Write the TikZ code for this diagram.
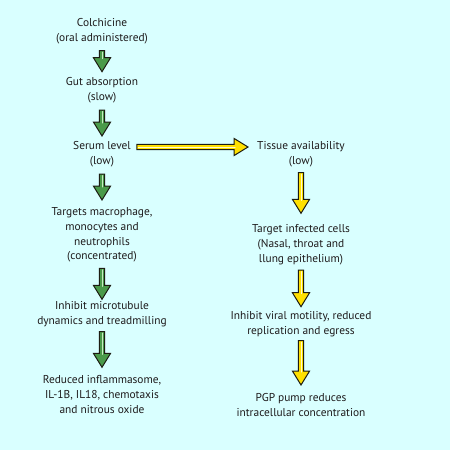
\documentclass[tikz,border=0pt]{standalone}
\usepackage{fontspec}
\setmainfont{PT Sans}
\usetikzlibrary{calc}

\definecolor{bgcyan}{HTML}{D9FFFF}
\definecolor{arrgreen}{HTML}{4A9A4A}
\definecolor{arrgreenhi}{HTML}{C6EBC0}
\definecolor{arryellow}{HTML}{FFE000}
\definecolor{arryellowhi}{HTML}{FFF8D0}
\definecolor{arredge}{HTML}{1C1C12}
\definecolor{txtgray}{HTML}{1E1B1C}

% block arrow: fill, highlight, from, to
\newcommand{\blockarrow}[4]{%
  \path let \p1=(#3), \p2=(#4) in \pgfextra{%
      \pgfmathsetmacro\arrang{atan2(\y2-\y1,\x2-\x1)}%
      \pgfmathsetmacro\arrlen{veclen(\x2-\x1,\y2-\y1)}%
      \xdef\arrang{\arrang}\xdef\arrlen{\arrlen}}
    (\p1) coordinate (arrfrom);
  \begin{scope}[shift={(arrfrom)}, rotate=\arrang]
    \draw[arredge, line width=1pt, line join=miter, fill=#1]
      (0pt,2.6pt) -- (\arrlen pt-14pt,2.6pt) -- (\arrlen pt-14pt,8.6pt)
      -- (\arrlen pt,0pt) -- (\arrlen pt-14pt,-8.6pt)
      -- (\arrlen pt-14pt,-2.6pt) -- (0pt,-2.6pt) -- cycle;
    \draw[#2, line width=1pt, line cap=round] (1.5pt,0pt) -- (\arrlen pt-13pt,0pt);
  \end{scope}}

\tikzset{
  stage/.style={align=center, inner sep=0pt, text=txtgray,
    font=\fontsize{11.4pt}{14.8pt}\selectfont}
}

\begin{document}
\begin{tikzpicture}[x=1pt, y=-1pt]
  \fill[bgcyan] (0,0) rectangle (450,450);
  \useasboundingbox (0,0) rectangle (450,450);

  % left column
  \node[stage] (colch)   at (102,30.8)  {Colchicine\\(oral administered)};
  \node[stage] (gut)     at (102,89.8)  {Gut absorption\\(slow)};
  \node[stage] (serum)   at (102,154.5) {Serum level\\(low)};
  \node[stage] (targets) at (102,235)   {Targets macrophage,\\monocytes and\\neutrophils\\(concentrated)};
  \node[stage] (micro)   at (102,314.5) {Inhibit microtubule\\dynamics and treadmilling};
  \node[stage] (reduced) at (102,394.5) {Reduced inflammasome,\\IL-1B, IL18, chemotaxis\\and nitrous oxide};

  % right column
  \node[stage] (tissue)   at (301,154.5) {Tissue availability\\(low)};
  \node[stage] (infected) at (301,244.8) {Target infected cells\\(Nasal, throat and\\llung epithelium)};
  \node[stage] (viral)    at (301,324.2) {Inhibit viral motility, reduced\\replication and egress};
  \node[stage] (pgp)      at (301,405.2) {PGP pump reduces\\intracellular concentration};

  \blockarrow{arrgreen}{arrgreenhi}{[yshift=-19.9pt]colch.center}{[yshift=18.1pt]gut.center}
  \blockarrow{arrgreen}{arrgreenhi}{[yshift=-20.2pt]gut.center}{[yshift=18.5pt]serum.center}
  \blockarrow{arrgreen}{arrgreenhi}{[yshift=-19.5pt]serum.center}{[yshift=35pt]targets.center}
  \blockarrow{arrgreen}{arrgreenhi}{[yshift=-33.3pt]targets.center}{[yshift=15.2pt]micro.center}
  \blockarrow{arrgreen}{arrgreenhi}{[yshift=-17.2pt]micro.center}{[yshift=27.2pt]reduced.center}

  \blockarrow{arryellow}{arryellowhi}{[xshift=6pt,yshift=7.5pt]serum.east}{[xshift=-9pt,yshift=7.5pt]tissue.west}
  \blockarrow{arryellow}{arryellowhi}{[yshift=-18.2pt]tissue.center}{[yshift=31.5pt]infected.center}
  \blockarrow{arryellow}{arryellowhi}{[yshift=-25.3pt]infected.center}{[yshift=17.5pt]viral.center}
  \blockarrow{arryellow}{arryellowhi}{[yshift=-16.5pt]viral.center}{[yshift=20.2pt]pgp.center}
\end{tikzpicture}
\end{document}
